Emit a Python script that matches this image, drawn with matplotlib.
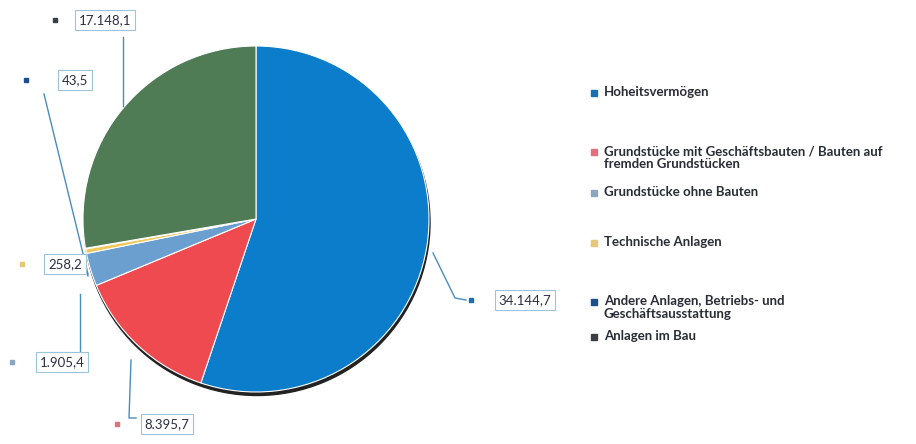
import matplotlib
matplotlib.use('Agg')
import matplotlib.pyplot as plt
from matplotlib.patches import Circle

plt.rcParams['font.family'] = ['Lato', 'DejaVu Sans']

# values (Mio. EUR)
categories = ['Hoheitsvermögen',
              'Grundstücke mit Geschäftsbauten / Bauten auf\nfremden Grundstücken',
              'Grundstücke ohne Bauten',
              'Technische Anlagen',
              'Andere Anlagen, Betriebs- und\nGeschäftsausstattung',
              'Anlagen im Bau']
values = [34144.7, 8395.7, 1905.4, 258.2, 43.5, 17148.1]
value_labels = ['34.144,7', '8.395,7', '1.905,4', '258,2', '43,5', '17.148,1']

colors = ['#0b7dca', '#ef4a4f', '#6b9fd0', '#f1c75a', '#1f4e8c', '#4f7b55']
key_colors = ['#1a6fb0', '#e0707a', '#8aa6c0', '#e6c67a', '#1f4e8c', '#3a3f44']

fig = plt.figure(figsize=(9.16, 4.44), dpi=100)
ax = fig.add_axes([0, 0, 1, 1])

cx, cy, r = 256, 225, 173

# dark rim at the bottom (shadow)
ax.add_patch(Circle((cx + 1, cy - 3.5), r, color='#222222', zorder=1))

ax.pie(values, colors=colors, startangle=90, counterclock=False,
       center=(cx, cy), radius=r, frame=True,
       wedgeprops=dict(edgecolor='white', linewidth=0.8, zorder=2))
ax.set_xlim(0, 916)
ax.set_ylim(0, 444)
ax.set_aspect('equal')
ax.axis('off')

# label boxes: (text x, text y, key x), leader line points
label_pos = [(525, 144, 471), (167, 20, 117), (62, 82, 12),
             (65, 180, 22), (75, 364, 26), (105, 424, 55)]
leaders = [
    [(433, 191), (455, 146), (466, 144)],
    [(131, 84), (129, 26), (136, 26)],
    [(80, 150), (80, 88)],
    [(88, 168), (86, 174)],
    [(88, 170), (44, 350)],
    [(123, 338), (123, 407)],
]
for i in range(len(values)):
    tx, ty, kx = label_pos[i]
    ax.text(tx, ty, value_labels[i], ha='center', va='center', fontsize=9.5,
            color='#2b2f45', zorder=5,
            bbox=dict(boxstyle='square,pad=0.3', fc='white', ec='#9cc3dc', lw=0.8))
    ax.plot(kx, ty, marker='s', ms=3.5, color=key_colors[i], zorder=5)
    xs = [p[0] for p in leaders[i]]
    ys = [p[1] for p in leaders[i]]
    ax.plot(xs, ys, color='#4a8cc0', lw=1.0, zorder=4)

# legend entries (first-line y positions, pixels from top)
legend_y = [93, 152, 193, 243, 302, 337]
for i in range(len(categories)):
    y = 444 - legend_y[i]
    ax.plot(594, y, marker='s', ms=4, color=key_colors[i], zorder=5)
    ax.text(604, y + 7, categories[i], ha='left', va='top', fontsize=9.5,
            fontweight='bold', color='#2a2d35', linespacing=1.05)

fig.savefig('out.png', dpi=100)
